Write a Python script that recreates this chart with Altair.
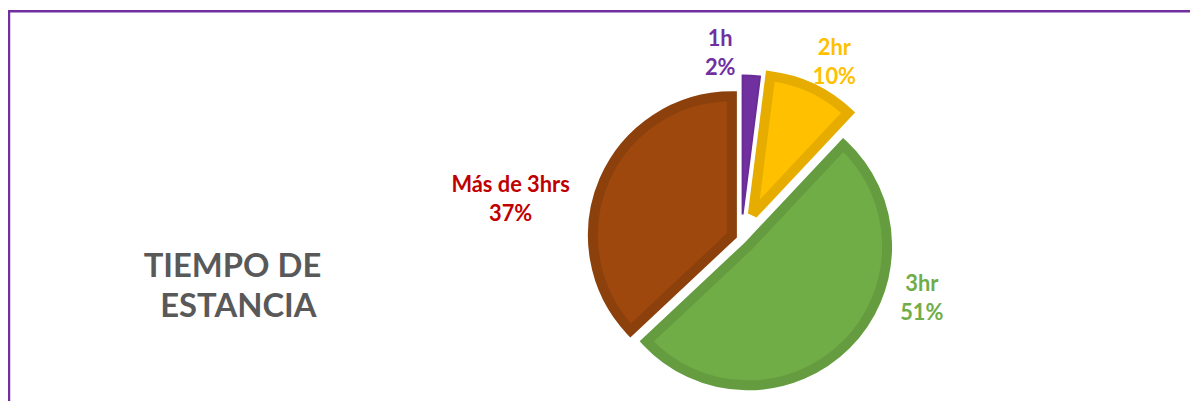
import math
import altair as alt
import pandas as pd

# ---- data ----
categories = ["1h", "2hr", "3hr", "Más de 3hrs"]
pcts = [2, 10, 51, 37]
title_lines = ["TIEMPO DE", "ESTANCIA"]

# ---- styles ----
fills = ["#7030A0", "#FFC000", "#70AD47", "#9E480E"]
strokes = ["#6A2D97", "#E6AD00", "#649C3F", "#8C400C"]
stroke_widths = [2, 10, 10, 10]
label_colors = ["#7030A0", "#FFC000", "#70AD47", "#C00000"]
explode = [25, 28, 10, 10]          # px pull-out per slice
center = (738, 231.5)               # pie centre (px)
radius = 140
label_pos = [(717, 30), (832, 39), (920, 277), (506, 177)]  # first-line centres (px)
title_pos = [(226, 259), (232, 300)]

total = sum(pcts)
rows = []
acc = 0
for i, (c, p) in enumerate(zip(categories, pcts)):
    mid = 2 * math.pi * (acc + p / 2) / total
    acc += p
    rows.append({
        "idx": i, "cat": c, "pct": p,
        "cx": center[0] + explode[i] * math.sin(mid),
        "cy": center[1] - explode[i] * math.cos(mid),
        "sw": stroke_widths[i],
        "label": f"{c}\n{p}%",
        "lx": label_pos[i][0], "ly": label_pos[i][1],
    })
df = pd.DataFrame(rows)

pie = alt.Chart(df).mark_arc(radius=radius, strokeJoin="miter", strokeMiterLimit=2).encode(
    theta=alt.Theta("pct:Q", stack=True),
    order=alt.Order("idx:Q"),
    x=alt.X("cx:Q", scale=None),
    y=alt.Y("cy:Q", scale=None),
    strokeWidth=alt.StrokeWidth("sw:Q", scale=None),
    color=alt.Color("cat:N", scale=alt.Scale(domain=categories, range=fills), legend=None),
    stroke=alt.Stroke("cat:N", scale=alt.Scale(domain=categories, range=strokes), legend=None),
)

labels = alt.Chart(df).mark_text(
    font="Lato", fontWeight="bold", fontSize=22, lineBreak="\n", lineHeight=29,
    align="center", baseline="middle",
).encode(
    x=alt.X("lx:Q", scale=None),
    y=alt.Y("ly:Q", scale=None),
    text="label:N",
    color=alt.Color("cat:N", scale=alt.Scale(domain=categories, range=label_colors), legend=None),
)

tdf = pd.DataFrame({"t": title_lines, "x": [p[0] for p in title_pos], "y": [p[1] for p in title_pos]})
title = alt.Chart(tdf).mark_text(
    font="Lato", fontWeight="bold", fontSize=33,
    align="center", baseline="middle", color="#595959",
).encode(x=alt.X("x:Q", scale=None), y=alt.Y("y:Q", scale=None), text="t:N")

border = alt.Chart(pd.DataFrame({"a": [0]})).mark_rect(
    fillOpacity=0, stroke="#7030A0", strokeWidth=2.5,
).encode(x=alt.value(1), x2=alt.value(1300), y=alt.value(2), y2=alt.value(500))

chart = alt.layer(border, pie, labels, title).resolve_scale(color="independent").properties(
    width=1190, height=393, padding=0, autosize=alt.AutoSizeParams(type="none"),
).configure_view(stroke=None)

chart.save("out.html", embed_options={"renderer": "svg", "actions": False})
